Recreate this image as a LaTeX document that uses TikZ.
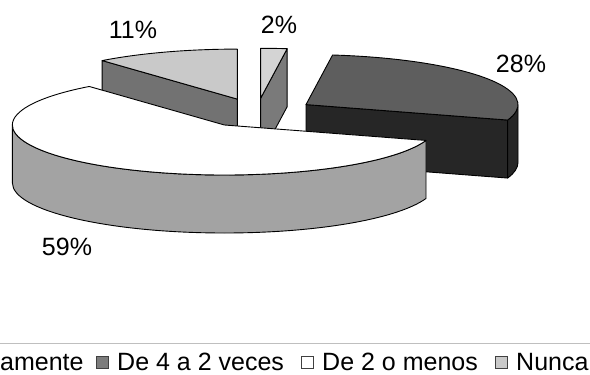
\documentclass[tikz,border=0pt]{standalone}
\usepackage{fontspec}
\setmainfont{Liberation Sans}
\usetikzlibrary{calc}

\definecolor{darktop}{HTML}{5E5E5E}
\definecolor{darkside}{HTML}{262626}
\definecolor{whiteside}{HTML}{A3A3A3}
\definecolor{lighttop}{HTML}{C9C9C9}
\definecolor{lightside}{HTML}{727272}
\definecolor{tinytop}{HTML}{D4D4D4}
\definecolor{tinyside}{HTML}{7A7A7A}
\definecolor{legbox}{HTML}{7C7C7C}

\tikzset{
	pie/.style={draw=black, line width=0.9pt, line join=round},
	pct/.style={font=\fontsize{25}{29}\selectfont, inner sep=0pt},
	legtext/.style={font=\fontsize{25}{29}\selectfont, anchor=base west, inner sep=0pt},
	legsquare/.style={draw=black!75, line width=0.8pt, minimum size=12pt, inner sep=0pt, anchor=south west}
}

\begin{document}
\begin{tikzpicture}[x=1pt,y=-1pt]
	\useasboundingbox (0,0) rectangle (590,375);
	% apex of each slice, pulled out from the centre (257,112)
	\coordinate (nunca) at (237.3,99.1);
	\coordinate (tiny) at (260.6,98.3);
	\coordinate (cuatro) at (306,104.6);
	\coordinate (menos) at (224.4,125);
	% 11%
	\draw[pie,fill=lightside] (nunca) -- ($(nunca)+(230.4:212 and 50)$) -- ++(0,58) -- ($(nunca)+(0,58)$) -- cycle;
	\draw[pie,fill=lighttop] (nunca) -- ($(nunca)+(230.4:212 and 50)$) arc[start angle=230.4, end angle=270, x radius=212, y radius=50] -- cycle;
	% 2%
	\draw[pie,fill=tinyside] (tiny) -- ($(tiny)+(-82.8:212 and 50)$) -- ++(0,58) -- ($(tiny)+(0,58)$) -- cycle;
	\draw[pie,fill=tinytop] (tiny) -- ($(tiny)+(-90:212 and 50)$) arc[start angle=-90, end angle=-82.8, x radius=212, y radius=50] -- cycle;
	% 28%
	\draw[pie,fill=darkside] (cuatro) -- ($(cuatro)+(18:212 and 50)$) -- ++(0,58) -- ($(cuatro)+(0,58)$) -- cycle;
	\draw[pie,fill=darkside] ($(cuatro)+(0:212 and 50)$) arc[start angle=0, end angle=18, x radius=212, y radius=50] -- ++(0,58) arc[start angle=18, end angle=0, x radius=212, y radius=50] -- cycle;
	\draw[pie,fill=darktop] (cuatro) -- ($(cuatro)+(-82.8:212 and 50)$) arc[start angle=-82.8, end angle=18, x radius=212, y radius=50] -- cycle;
	% 59%
	\draw[pie,fill=whiteside] ($(menos)+(18:212 and 50)$) arc[start angle=18, end angle=180, x radius=212, y radius=50] -- ++(0,58) arc[start angle=180, end angle=18, x radius=212, y radius=50] -- cycle;
	\draw[pie,fill=white] (menos) -- ($(menos)+(18:212 and 50)$) arc[start angle=18, end angle=230.4, x radius=212, y radius=50] -- cycle;
	% labels
	\node[pct] (p11) at (133,30) {11\%};
	\node[pct] (p2) at (279,25) {2\%};
	\node[pct] (p28) at (521,64) {28\%};
	\node[pct] (p59) at (67,247) {59\%};
	% legend
	\draw[black!25, line width=1pt] (0,343) -- (590,343);
	\node[legtext] (l1) at (0,370) {amente};
	\node[legsquare, fill=legbox] (b2) at (96,369) {};
	\node[legtext] (l2) at (117,370) {De 4 a 2 veces};
	\node[legsquare, fill=white] (b3) at (301,369) {};
	\node[legtext] (l3) at (322,370) {De 2 o menos};
	\node[legsquare, fill=lighttop] (b4) at (495,369) {};
	\node[legtext] (l4) at (516,370) {Nunca};
\end{tikzpicture}
\end{document}
